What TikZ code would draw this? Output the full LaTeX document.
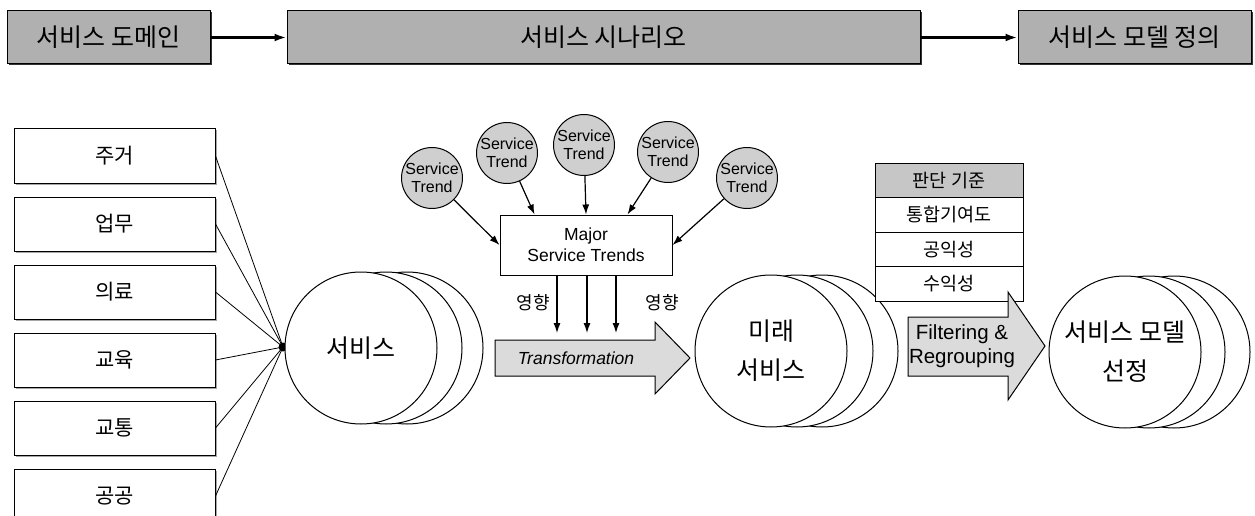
\documentclass[tikz,border=0pt]{standalone}
\usepackage{fontspec}
\setmainfont{Liberation Sans}
\newfontfamily\kr{Noto Sans CJK KR}
\usepackage{tikz}
\usetikzlibrary{positioning,calc,arrows.meta,shadows}
\colorlet{hdrgray}{gray!62}
\colorlet{trendgray}{gray!38}
\colorlet{critgray}{gray!45}
\colorlet{arrgray}{gray!28}

\begin{document}
\begin{tikzpicture}[x=1pt,y=-1pt,line width=1pt,
 hdr/.style={draw,fill=hdrgray,minimum height=53pt,inner sep=0pt,font=\kr\fontsize{25}{28}\selectfont,
  drop shadow={shadow xshift=1.5pt,shadow yshift=-1.5pt,fill=black!80,opacity=1}},
 dom/.style={draw,fill=white,minimum width=201pt,minimum height=54pt,inner sep=0pt,font=\kr\fontsize{21}{24}\selectfont,
  drop shadow={shadow xshift=1.5pt,shadow yshift=-1.5pt,fill=gray!70,opacity=1}},
 st/.style={circle,draw,fill=trendgray,minimum size=59pt,inner sep=0pt,align=center,font=\fontsize{16}{18}\selectfont},
 big/.style={circle,draw,fill=white,minimum size=152pt,inner sep=0pt,align=center,font=\kr\fontsize{25}{39}\selectfont},
 crit/.style={draw,fill=white,minimum width=148pt,minimum height=34.5pt,inner sep=0pt,outer sep=0pt,font=\kr\fontsize{18.5}{20}\selectfont},
 ar/.style={-{Latex[length=10pt,width=7pt]},line width=1.2pt},
 har/.style={-{Latex[length=12pt,width=8pt]},line width=2.5pt}]
\useasboundingbox (0,0) rectangle (1255,516);

% top row
\node[hdr,minimum width=203pt] (hdr1) at (108.5,37.5) {서비스 도메인};
\node[hdr,minimum width=633pt] (hdr2) at (603.5,37.5) {서비스 시나리오};
\node[hdr,minimum width=233pt] (hdr3) at (1134.5,37.5) {서비스 모델 정의};
\draw[har] (hdr1) -- (hdr2); \draw[har] (hdr2) -- (hdr3);

% domains
\node[dom] (dom1) at (114.5,156) {주거};
\node[dom,below=13pt of dom1] (dom2) {업무};
\node[dom,below=13pt of dom2] (dom3) {의료};
\node[dom,below=13pt of dom3] (dom4) {교육};
\node[dom,below=13pt of dom4] (dom5) {교통};
\node[dom,below=13pt of dom5] (dom6) {공공};
\node[circle,fill=black,inner sep=0pt,minimum size=9pt] (hub) at (283,347) {};
\foreach \i in {1,...,6} \draw[line width=0.8pt] (dom\i.east) -- (hub.center);

% services
\node[big] (svcb2) at (407,348) {};
\node[big] (svcb1) at (386,348) {};
\node[big] (svc) at (361,348) {서비스};

% trends
\node[st] (t1) at (432,178) {Service\\Trend};
\node[st] (t2) at (507,153) {Service\\Trend};
\node[st] (t3) at (584,145) {Service\\Trend};
\node[st] (t4) at (668,152) {Service\\Trend};
\node[st] (t5) at (747,178) {Service\\Trend};
\node[draw,fill=white,minimum width=172pt,minimum height=60pt,align=center,
 font=\fontsize{17.5}{21}\selectfont] (mst) at (586,245) {Major\\Service Trends};
\draw[ar] (t1) -- (mst.west);
\draw[ar] (t2) -- ($(mst.north west)+(35,0)$);
\draw[ar] (t3) -- (mst.north);
\draw[ar] (t4) -- ($(mst.north east)+(-45,0)$);
\draw[ar] (t5) -- (mst.east);
\coordinate (d1) at (557,333); \coordinate (d2) at (587,333); \coordinate (d3) at (616,333);
\draw[ar] (mst.south -| d1) -- (d1);
\draw[ar] (mst.south -| d2) -- (d2);
\draw[ar] (mst.south -| d3) -- (d3);
\node[font=\kr\fontsize{18}{20}\selectfont] (inf1) at (533,303) {영향};
\node[font=\kr\fontsize{18}{20}\selectfont] (inf2) at (662,303) {영향};

% transformation
\draw[fill=arrgray] (495,340) -- (655,340) -- (655,322) -- (690,358) -- (655,394) -- (655,376) -- (495,376) -- cycle;
\node[font=\itshape\fontsize{17.5}{20}\selectfont] (trf) at (576,358) {Transformation};

% future services
\node[big] (futb2) at (822,351) {};
\node[big] (futb1) at (797,351) {};
\node[big] (fut) at (771,351) {미래\\서비스};

% criteria
\node[crit,fill=critgray] (crit1) at (949,180.25) {판단 기준};
\node[crit,below=0pt of crit1] (crit2) {통합기여도};
\node[crit,below=0pt of crit2] (crit3) {공익성};
\node[crit,below=0pt of crit3] (crit4) {수익성};

% filtering
\draw[fill=arrgray] (908,317) -- (1008,317) -- (1008,292) -- (1045,346) -- (1008,400) -- (1008,376) -- (908,376) -- cycle;
\node[align=center,font=\fontsize{20.5}{24}\selectfont] (fil) at (962,346) {Filtering \&\\Regrouping};

% selected model
\node[big] (selb2) at (1174,352) {};
\node[big] (selb1) at (1149,352) {};
\node[big] (sel) at (1125,352) {서비스 모델\\선정};
\end{tikzpicture}
\end{document}
